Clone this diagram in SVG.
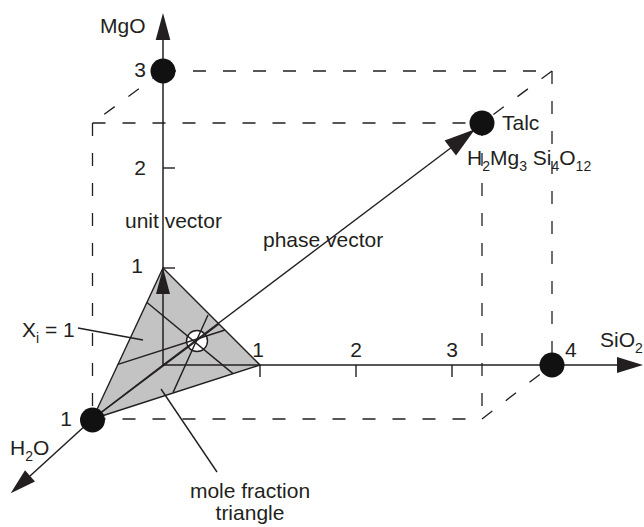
<svg xmlns="http://www.w3.org/2000/svg" width="644" height="527" viewBox="0 0 644 527">
<style>
text{font-family:"Liberation Sans",Arial,Helvetica,sans-serif;font-size:21px;fill:#231f20}
.sub{font-size:14px}
.dash{fill:none;stroke:#231f20;stroke-width:1.3;stroke-dasharray:13 17}
.ln{fill:none;stroke:#231f20;stroke-width:1.4}
.ax{fill:none;stroke:#231f20;stroke-width:1.5}
.ah{fill:#231f20;stroke:none}
.pt{fill:#111;stroke:none}
</style>
<rect width="644" height="527" fill="#fff"/>
<g id="box">
<line class="dash" x1="163" y1="71" x2="552" y2="71"/>
<line class="dash" x1="552" y1="71" x2="552" y2="365"/>
<line class="dash" x1="163" y1="71" x2="92.5" y2="123"/>
<line class="dash" x1="552" y1="71" x2="482" y2="123"/>
<line class="dash" x1="92.5" y1="123" x2="482" y2="123"/>
<line class="dash" x1="92.5" y1="123" x2="92.5" y2="419"/>
<line class="dash" x1="482" y1="123" x2="482" y2="419"/>
<line class="dash" x1="92.5" y1="419" x2="482" y2="419"/>
<line class="dash" x1="482" y1="419" x2="552" y2="365"/>
</g>
<g id="mole-fraction-triangle">
<polygon points="163,268 260,365 92.5,419" fill="#c3c3c3" stroke="#231f20" stroke-width="1.4"/>
<circle cx="197" cy="341" r="10.5" fill="#fff" stroke="#231f20" stroke-width="1.4"/>
<line class="ln" x1="147" y1="302.5" x2="233" y2="373.6"/>
<line class="ln" x1="118" y1="364.4" x2="225" y2="330"/>
<line class="ln" x1="208" y1="315" x2="173" y2="392.6"/>
<line class="ln" x1="92.5" y1="419" x2="219" y2="324"/>
</g>
<g id="connectors">
<line class="ax" x1="163" y1="365" x2="163" y2="30"/>
<polygon class="ah" points="163,13 155.7,40 170.3,40"/>
<polygon class="ah" points="163,268 156,294 170,294"/>
<line class="ax" x1="163" y1="365" x2="625" y2="365"/>
<polygon class="ah" points="643,365 617,357 617,373"/>
<line class="ax" x1="163" y1="365" x2="92.5" y2="419"/>
<line class="ax" x1="92.5" y1="419" x2="30" y2="476"/>
<polygon class="ah" points="10.7,493.3 25,470.3 35,481.5"/>
<line class="ln" x1="163" y1="365" x2="452" y2="147"/>
<polygon class="ah" points="475,129.3 444.6,140.4 456,155.6"/>
<line class="ln" x1="163" y1="268" x2="175" y2="268"/>
<line class="ln" x1="163" y1="168" x2="175" y2="168"/>
<line class="ln" x1="260" y1="365" x2="260" y2="377"/>
<line class="ln" x1="356" y1="365" x2="356" y2="377"/>
<line class="ln" x1="452" y1="365" x2="452" y2="377"/>
<line class="ln" x1="78" y1="328" x2="143" y2="340"/>
<line class="ln" x1="161" y1="389" x2="217" y2="472"/>
</g>
<g id="points">
<circle class="pt" cx="163" cy="71" r="12.5"/>
<circle class="pt" cx="482" cy="123" r="12.5"/>
<circle class="pt" cx="552" cy="365" r="12.5"/>
<circle class="pt" cx="92.5" cy="420" r="12.5"/>
</g>
<g id="labels">
<text x="100" y="33">MgO</text>
<text x="146" y="77" text-anchor="end">3</text>
<text x="146" y="175" text-anchor="end">2</text>
<text x="143" y="273" text-anchor="end">1</text>
<text x="258" y="357" text-anchor="middle">1</text>
<text x="356" y="357" text-anchor="middle">2</text>
<text x="452" y="357" text-anchor="middle">3</text>
<text x="565" y="357">4</text>
<text x="600" y="347">SiO<tspan class="sub" dy="6">2</tspan></text>
<text x="72" y="426" text-anchor="end">1</text>
<text x="10" y="455">H<tspan class="sub" dy="6">2</tspan><tspan dy="-6">O</tspan></text>
<text x="502" y="130">Talc</text>
<text x="467" y="165">H<tspan class="sub" dy="6">2</tspan><tspan dy="-6">Mg</tspan><tspan class="sub" dy="6">3</tspan><tspan dy="-6"> Si</tspan><tspan class="sub" dy="6">4</tspan><tspan dy="-6">O</tspan><tspan class="sub" dy="6">12</tspan></text>
<text x="125" y="228">unit vector</text>
<text x="263" y="247">phase vector</text>
<text x="22" y="337">X<tspan class="sub" dy="6">i</tspan><tspan dy="-6"> = 1</tspan></text>
<text x="250" y="498" text-anchor="middle">mole fraction</text>
<text x="250" y="520" text-anchor="middle">triangle</text>
</g>
</svg>
